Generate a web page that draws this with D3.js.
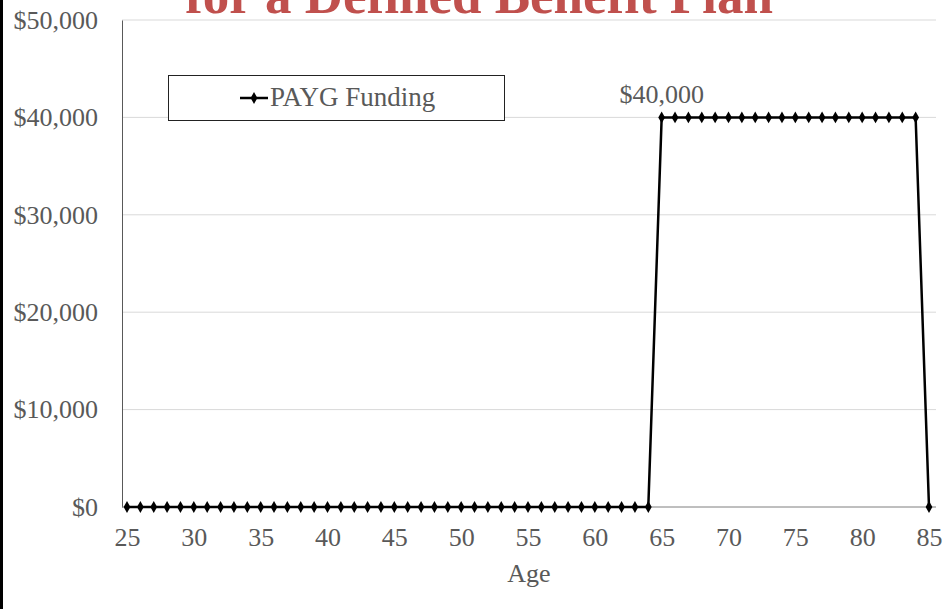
<!DOCTYPE html>
<html>
<head>
<meta charset="utf-8">
<script src="https://cdn.jsdelivr.net/npm/d3@7"></script>
<style>
  html, body { margin: 0; padding: 0; background: #fff; }
  svg { display: block; }
</style>
</head>
<body>
<svg id="chart" width="950" height="609"></svg>
<script>
// Pay-as-you-go funding per age
const ages = [25, 26, 27, 28, 29, 30, 31, 32, 33, 34, 35, 36, 37, 38, 39, 40,
  41, 42, 43, 44, 45, 46, 47, 48, 49, 50, 51, 52, 53, 54, 55, 56, 57, 58, 59, 60,
  61, 62, 63, 64, 65, 66, 67, 68, 69, 70, 71, 72, 73, 74, 75, 76, 77, 78, 79, 80,
  81, 82, 83, 84, 85];
const paygFunding = [0, 0, 0, 0, 0, 0, 0, 0, 0, 0, 0, 0, 0, 0, 0, 0,
  0, 0, 0, 0, 0, 0, 0, 0, 0, 0, 0, 0, 0, 0, 0, 0, 0, 0, 0, 0,
  0, 0, 0, 0, 40000, 40000, 40000, 40000, 40000, 40000, 40000, 40000, 40000, 40000,
  40000, 40000, 40000, 40000, 40000, 40000, 40000, 40000, 40000, 40000, 0];
const xTicks = [25, 30, 35, 40, 45, 50, 55, 60, 65, 70, 75, 80, 85];
const yTicks = [0, 10000, 20000, 30000, 40000, 50000];
const seriesName = "PAYG Funding";
const titleText = "for a Defined Benefit Plan";
const xTitle = "Age";
const labelledAge = 65;

const FONT = "'Liberation Serif', 'Times New Roman', serif";
const FS = 26;
const gray = "#595959";

const svg = d3.select("#chart");
const plot = { left: 122, right: 936, top: 20, bottom: 507 };

const x = d3.scaleLinear().domain([25, 85]).range([127, 929]);
const y = d3.scaleLinear().domain([0, 50000]).range([plot.bottom, plot.top]);
const fmt = v => "$" + d3.format(",")(v);

// frame edge on the left
svg.append("rect").attr("x", 0).attr("y", 0).attr("width", 3).attr("height", 609).attr("fill", "#000");

// horizontal gridlines
svg.append("g").selectAll("line").data(yTicks.filter(d => d > 0)).join("line")
  .attr("x1", plot.left).attr("x2", plot.right)
  .attr("y1", d => y(d)).attr("y2", d => y(d))
  .attr("stroke", "#d9d9d9").attr("stroke-width", 1);

// y axis
const yAxis = svg.append("g").attr("transform", `translate(${plot.left},0)`)
  .call(d3.axisLeft(y).tickValues(yTicks).tickFormat(fmt).tickSize(0).tickPadding(24));
yAxis.attr("font-family", FONT).attr("font-size", FS);
yAxis.select(".domain").attr("stroke", "#595959").attr("stroke-width", 1);
yAxis.selectAll("text").attr("fill", gray);

// x axis
const xAxis = svg.append("g").attr("transform", `translate(0,${plot.bottom})`)
  .call(d3.axisBottom(x).tickValues(xTicks).tickFormat(d3.format("d")).tickSize(0).tickPadding(21));
xAxis.attr("font-family", FONT).attr("font-size", FS);
xAxis.select(".domain").remove();
xAxis.append("line").attr("x1", plot.left).attr("x2", plot.right)
  .attr("y1", 0).attr("y2", 0).attr("stroke", "#7f7f7f").attr("stroke-width", 1);
xAxis.selectAll("text").attr("fill", gray);

// axis title
svg.append("text").attr("x", (plot.left + plot.right) / 2).attr("y", 582)
  .attr("text-anchor", "middle").attr("font-family", FONT).attr("font-size", FS)
  .attr("fill", gray).text(xTitle);

// series line
const pts = ages.map((a, i) => ({ age: a, v: paygFunding[i] }));
svg.append("path").datum(pts)
  .attr("fill", "none").attr("stroke", "#000").attr("stroke-width", 2.5)
  .attr("stroke-linejoin", "round")
  .attr("d", d3.line().x(d => x(d.age)).y(d => y(d.v)));

// diamond markers
const diamond = d3.symbol().type(d3.symbolDiamond).size(40);
svg.append("g").selectAll("path").data(pts).join("path")
  .attr("transform", d => `translate(${x(d.age)},${y(d.v)})`)
  .attr("d", diamond).attr("fill", "#000");

// value label
const lp = pts.find(d => d.age === labelledAge);
svg.append("text").attr("x", x(lp.age)).attr("y", y(lp.v) - 14)
  .attr("text-anchor", "middle").attr("font-family", FONT).attr("font-size", FS)
  .attr("fill", gray).text(fmt(lp.v));

// legend
const lg = svg.append("g");
lg.append("rect").attr("x", 168.5).attr("y", 75.5).attr("width", 336).attr("height", 45)
  .attr("fill", "#fff").attr("stroke", "#222").attr("stroke-width", 1);
lg.append("line").attr("x1", 240).attr("x2", 268).attr("y1", 98).attr("y2", 98)
  .attr("stroke", "#000").attr("stroke-width", 2.5);
lg.append("path").attr("transform", "translate(254,98)").attr("d", diamond).attr("fill", "#000");
lg.append("text").attr("x", 270).attr("y", 106).attr("font-family", FONT).attr("font-size", 27)
  .attr("fill", gray).text(seriesName);

// title, running off the top edge
svg.append("text").attr("x", 479).attr("y", 13).attr("text-anchor", "middle")
  .attr("font-family", FONT).attr("font-size", 53).attr("font-weight", "bold")
  .attr("fill", "#c0504d").text(titleText);
</script>
</body>
</html>
